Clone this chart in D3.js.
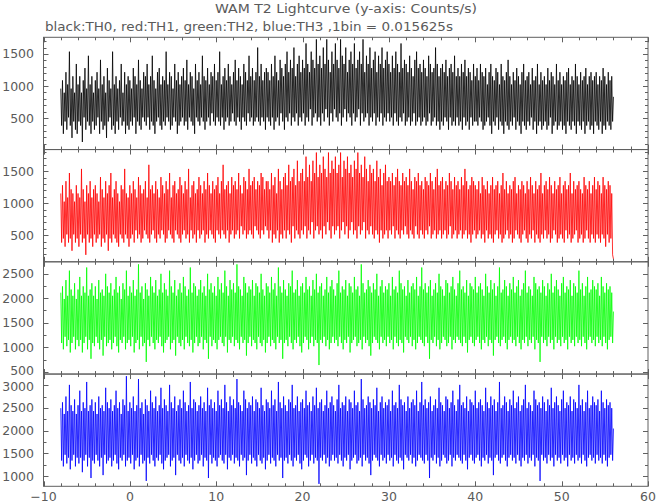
<!DOCTYPE html>
<html><head><meta charset="utf-8">
<script src="https://cdn.jsdelivr.net/npm/d3@7"></script>
<style>body{margin:0;background:#fff}</style></head>
<body>
<script>
// ---- data: the visible trace (counts/s), one value every 0.1 s from t = -8 s ----
const T_START = -8, T_STEP = 0.1;
const th0 = [
960,384,1088,256,896,448,1216,320,1024,512,1536,384,960,192,1152,448,896,320,1344,256,
1024,448,1152,384,896,128,1088,512,1280,320,960,448,1472,384,1024,256,1152,448,896,320,
1088,384,1216,512,960,256,1408,448,1024,320,1152,384,896,192,1280,448,1088,512,960,320,
1536,384,1024,256,1152,448,960,320,1088,512,1344,384,896,448,1216,256,1024,384,1152,320,
1088,448,960,384,1280,512,1152,256,1024,448,1408,384,1088,320,960,512,1216,448,1152,384,
1344,512,1024,320,1152,448,1472,384,1088,256,960,448,1216,512,1280,384,1024,320,1152,448,
1088,384,1536,512,1024,448,1216,320,1152,384,960,512,1344,448,1088,256,1216,384,1024,448,
1152,512,1280,384,1088,448,1408,320,1024,512,1216,448,1152,384,960,256,1344,512,1088,448,
1216,384,1024,512,1472,448,1152,320,1088,448,1280,512,1024,384,1216,576,1152,448,1344,384,
1088,512,1216,448,1536,384,1024,512,1152,320,1280,448,1088,512,1344,384,1152,448,1024,576,
1216,448,1408,384,1088,512,1280,448,1152,320,1024,512,1344,448,1216,384,1088,576,1472,448,
1152,512,1280,384,1088,448,1216,512,1600,448,1152,384,1344,512,1088,448,1216,320,1280,512,
1216,448,1088,384,1344,512,1152,320,1472,448,1216,512,1088,384,1408,576,1280,448,1152,320,
1344,512,1536,448,1216,576,1408,384,1280,512,1600,448,1152,576,1344,384,1472,512,1216,448,
1408,576,1280,384,1664,512,1344,448,1216,640,1536,384,1408,512,1280,576,1728,448,1344,512,
1472,384,1280,576,1600,448,1344,640,1728,512,1408,384,1216,576,1536,448,1344,640,1664,512,
1408,448,1280,576,1728,384,1472,512,1344,640,1600,448,1216,576,1408,512,1536,384,1344,576,
1664,448,1280,512,1408,640,1536,384,1344,576,1728,448,1216,512,1472,576,1344,384,1600,512,
1280,448,1408,576,1536,384,1216,512,1472,448,1344,576,1600,384,1280,512,1408,448,1536,576,
1344,448,1216,512,1472,384,1280,576,1536,448,1344,384,1216,512,1664,448,1280,576,1408,384,
1344,448,1216,512,1472,384,1280,448,1152,576,1408,384,1536,448,1280,512,1344,384,1216,448,
1408,512,1280,384,1152,448,1472,576,1344,384,1216,448,1280,512,1600,384,1344,448,1152,320,
1280,448,1344,384,1216,512,1408,448,1152,320,1280,512,1344,384,1216,448,1472,384,1152,512,
1280,384,1152,448,1344,320,1216,512,1408,384,1152,448,1280,320,1216,512,1088,384,1344,448,
1152,448,1280,384,1088,512,1344,448,1216,320,1152,384,1280,448,1024,512,1216,384,1344,256,
1152,448,1088,384,1280,512,1216,320,1024,448,1344,384,1152,256,1088,448,1216,384,1408,320,
1152,448,1024,384,1216,512,1088,320,1280,448,1152,384,1024,256,1216,448,1344,384,1088,320,
1152,448,1216,384,1024,512,1280,320,1088,448,1152,256,1344,384,1024,448,1216,320,1088,384,
1152,448,1024,320,1280,384,1088,512,1216,256,1152,384,1024,448,1344,320,1088,384,1216,448,
1024,320,1152,384,1088,256,1216,448,1280,384,1024,320,1152,448,1088,384,1344,256,1152,448,
1024,384,1216,320,1088,448,1152,256,1280,384,1024,448,1152,320,1216,384,1088,256,1152,448,
1216,384,1024,320,1152,448,1088,256,1280,384,1152,320,1024,448,1216,384,1088,320,1152,448,
832];
const th1 = [
1152,384,1280,448,1024,320,1344,512,1088,384,1472,448,1216,256,1152,512,1024,384,1280,448,
1152,320,1088,512,1536,384,1216,448,1024,192,1280,512,1152,384,1344,448,1088,320,1216,512,
1280,384,1152,448,1024,512,1408,320,1216,448,1088,384,1344,512,1152,256,1280,448,1472,384,
1088,512,1216,448,1344,384,1152,320,1024,512,1280,448,1216,384,1536,512,1152,448,1088,320,
1280,448,1152,512,1344,384,1216,576,1088,448,1408,512,1280,384,1152,448,1216,576,1344,512,
1088,448,1600,384,1216,512,1280,576,1152,448,1344,384,1216,512,1088,448,1408,576,1280,512,
1152,384,1344,448,1216,576,1472,512,1088,448,1280,384,1344,576,1152,512,1216,448,1408,384,
1280,512,1152,576,1344,448,1216,512,1536,384,1088,576,1280,448,1344,512,1152,384,1216,576,
1408,448,1280,512,1152,576,1344,384,1216,512,1472,448,1280,576,1152,512,1344,448,1216,384,
1280,576,1408,512,1152,448,1344,576,1600,512,1216,448,1280,576,1344,384,1152,512,1408,576,
1280,448,1344,512,1216,576,1472,448,1280,640,1152,512,1408,576,1344,448,1216,512,1536,576,
1280,512,1344,448,1408,640,1216,576,1344,512,1280,448,1472,576,1408,512,1216,640,1344,576,
1344,448,1216,576,1472,384,1280,512,1408,448,1152,576,1536,384,1344,512,1216,448,1408,576,
1472,448,1280,576,1600,512,1344,384,1408,640,1536,448,1280,576,1664,512,1344,448,1472,576,
1536,512,1344,640,1728,448,1408,576,1600,512,1344,704,1664,448,1472,576,1792,640,1408,512,
1600,576,1472,448,1728,640,1536,512,1408,704,1792,576,1472,448,1664,640,1536,512,1728,576,
1472,640,1600,448,1792,576,1408,704,1664,512,1536,640,1728,448,1472,576,1600,704,1408,512,
1664,576,1536,448,1792,640,1472,512,1600,576,1408,704,1728,448,1536,576,1344,512,1600,640,
1472,512,1536,448,1344,576,1664,512,1408,384,1536,576,1280,448,1472,512,1600,576,1344,448,
1408,576,1344,512,1472,640,1280,448,1408,576,1536,512,1344,448,1280,576,1472,512,1344,640,
1408,512,1280,448,1536,576,1344,512,1216,448,1408,640,1344,512,1472,448,1280,576,1344,512,
1216,448,1408,576,1344,512,1280,640,1472,448,1344,512,1216,576,1408,448,1536,512,1280,576,
1344,448,1408,512,1216,576,1344,448,1280,512,1472,640,1344,448,1216,512,1408,576,1280,448,
1344,512,1216,576,1408,448,1280,512,1536,576,1344,448,1216,512,1280,384,1408,512,1344,576,
1280,448,1216,512,1344,576,1152,448,1408,512,1280,384,1216,576,1344,448,1152,512,1280,448,
1408,384,1216,512,1280,576,1344,448,1152,512,1280,384,1472,448,1216,512,1344,576,1152,448,
1280,512,1216,384,1344,448,1408,576,1152,512,1280,448,1216,384,1344,512,1280,576,1152,448,
1344,384,1216,512,1408,448,1280,576,1152,384,1344,512,1216,448,1280,384,1472,512,1152,448,
1280,576,1344,448,1216,512,1408,384,1280,448,1152,576,1344,512,1216,384,1280,448,1408,512,
1152,448,1280,384,1344,576,1216,448,1280,512,1472,384,1152,448,1344,512,1216,576,1280,384,
1344,448,1216,512,1152,384,1408,448,1280,576,1216,448,1344,384,1152,512,1280,448,1408,384,
1216,512,1344,448,1280,384,1152,512,1408,448,1280,320,1216,512,1344,384,1280,448,1152,192,
128];
const th2 = [
2112,1088,2240,960,1984,1216,2368,1024,2048,1152,2560,896,2176,1088,2048,1216,2304,960,1984,1152,
2176,1024,2432,1152,2048,896,2240,1088,2112,1216,2624,960,2048,1152,2176,768,2304,1088,2048,1024,
2240,1216,1984,1088,2368,960,2112,1152,2176,832,2048,1216,2496,1024,2240,1088,2112,1152,2304,960,
2048,1088,2176,1216,2432,1024,2112,896,2240,1152,1984,1088,2304,1216,2176,960,2560,1088,2048,1152,
2240,1024,2112,1216,2368,896,2048,1088,2176,1152,2688,960,2112,1216,2240,1024,1984,1088,2304,704,
2176,1152,2048,1024,2432,1216,2240,1088,2112,960,2368,1152,2048,1088,2176,1216,2496,1024,2112,896,
2304,1088,2176,1152,2048,1216,2560,960,2240,1088,2112,1152,2368,832,2048,1216,2176,1088,2304,1024,
2112,1152,2432,960,2240,1216,2048,1088,2176,1024,2624,1152,2112,896,2304,1088,2240,1216,2048,1024,
2176,1088,2368,1216,2112,960,2240,1152,2048,1088,2496,768,2176,1216,2304,1024,2112,1152,2240,1088,
2048,960,2432,1152,2176,1216,2304,1088,2112,1024,2560,1216,2240,896,2048,1152,2368,1088,2176,1216,
2304,1024,2112,1152,2688,1088,2240,960,2176,1216,2048,1088,2432,1152,2304,832,2112,1088,2240,1216,
2176,1024,2368,1152,2048,1088,2304,960,2240,1216,2112,1088,2496,1024,2176,1152,2048,896,2304,1088,
2240,1216,2112,1024,2432,1152,2176,1088,2304,960,2048,1216,2624,1088,2240,1152,2112,768,2368,1088,
2176,1152,2048,1024,2304,1216,2240,1088,2560,960,2112,1152,2176,1088,2368,1216,2048,1024,2240,896,
2304,1088,2112,1216,2432,1152,2176,960,2240,1088,2048,1216,2368,1024,2176,1152,2496,1088,2112,640,
2240,1152,2304,1088,2048,1216,2176,1024,2432,1152,2112,960,2240,1088,2368,1216,2176,1088,2048,1152,
2304,1024,2560,1216,2112,1088,2240,960,2176,1152,2368,1088,2048,1216,2304,896,2240,1088,2112,1152,
2432,1216,2176,1024,2240,1088,2048,1152,2688,960,2304,1216,2112,1088,2176,1152,2368,1024,2240,832,
2112,1088,2304,1216,2176,1152,2496,1088,2048,960,2240,1216,2368,1088,2112,1152,2240,1024,2176,1216,
2304,1088,2048,1152,2432,960,2176,1216,2240,1088,2112,1024,2560,1152,2304,1088,2176,896,2240,1216,
2048,1152,2368,1088,2112,1216,2240,1024,2304,1152,2176,960,2432,1088,2048,1216,2240,1152,2624,1088,
2176,1024,2304,1216,2112,1088,2240,768,2368,1152,2048,1088,2176,1216,2304,1024,2112,1152,2496,960,
2240,1088,2176,1216,2048,1152,2368,1024,2304,1088,2112,1216,2240,960,2432,1152,2176,1088,2048,1216,
2304,1152,2560,1088,2176,1024,2240,1216,2112,1088,2368,896,2048,1152,2304,1216,2240,1088,2176,1024,
2432,1152,2112,1216,2240,1088,2304,960,2176,1152,2048,1088,2496,1216,2240,1024,2112,1152,2368,1088,
2176,832,2304,1152,2048,1216,2240,1088,2624,1024,2112,1152,2176,1216,2368,1088,2240,960,2048,1152,
2304,1216,2176,1088,2432,1152,2112,1024,2240,1216,2368,1088,2048,960,2176,1152,2304,1088,2560,1216,
2112,1024,2240,1152,2176,1088,2048,1216,2432,960,2304,1152,2176,1088,2240,704,2112,1216,2368,1088,
2240,1152,2048,1024,2304,1216,2176,1088,2496,1152,2112,960,2240,1216,2368,1088,2176,1152,2048,1024,
2304,1216,2432,1088,2112,1152,2240,960,2176,1216,2368,1088,2048,1152,2304,1024,2240,1216,2112,1088,
2560,1152,2176,1024,2304,1216,2048,1088,2240,960,2432,1152,2112,1216,2176,1088,2368,1152,2240,1024,
2176,1216,2304,1088,2048,1152,2432,1024,2240,1216,2112,1088,2304,960,2176,1152,2240,1216,2112,1088,
1728];
const th3 = [
2496,1344,2624,1216,2368,1472,2752,1280,2432,1408,3008,1152,2560,1344,2432,1472,2688,1216,2368,1408,
2560,1280,2880,1408,2432,1088,2624,1344,2496,1472,3072,1216,2432,1408,2560,960,2688,1344,2432,1280,
2624,1472,2368,1344,2752,1216,2496,1408,2560,1024,2432,1472,2944,1280,2624,1344,2496,1408,2688,1216,
2432,1344,2560,1472,2880,1280,2496,1152,2624,1408,2368,1344,2688,1472,2560,1216,3200,1344,2432,1408,
2624,1280,2496,1472,2752,1152,2432,1344,2560,1408,3136,1216,2496,1472,2624,1280,2368,1344,2688,896,
2560,1408,2432,1280,2880,1472,2624,1344,2496,1216,2752,1408,2432,1344,2560,1472,2944,1280,2496,1152,
2688,1344,2560,1408,2432,1472,3008,1216,2624,1344,2496,1408,2752,1024,2432,1472,2560,1344,2688,1280,
2496,1408,2880,1216,2624,1472,2432,1344,2560,1280,3072,1408,2496,1152,2688,1344,2624,1472,2432,1280,
2560,1344,2752,1472,2496,1216,2624,1408,2432,1344,2944,960,2560,1472,2688,1280,2496,1408,2624,1344,
2432,1216,2880,1408,2560,1472,2688,1344,2496,1280,3008,1472,2624,1152,2432,1408,2752,1344,2560,1472,
2688,1280,2496,1408,3136,1344,2624,1216,2560,1472,2432,1344,2880,1408,2688,1024,2496,1344,2624,1472,
2560,1280,2752,1408,2432,1344,2688,1216,2624,1472,2496,1344,2944,1280,2560,1408,2432,1152,2688,1344,
2624,1472,2496,1280,2880,1408,2560,1344,2688,1216,2432,1472,3072,1344,2624,1408,2496,960,2752,1344,
2560,1408,2432,1280,2688,1472,2624,1344,3008,1216,2496,1408,2560,1344,2752,1472,2432,1280,2624,1152,
2688,1344,2496,1472,2880,1408,2560,1216,2624,1344,2432,1472,2752,1280,2560,1408,2944,1344,2496,832,
2624,1408,2688,1344,2432,1472,2560,1280,2880,1408,2496,1216,2624,1344,2752,1472,2560,1344,2432,1408,
2688,1280,3008,1472,2496,1344,2624,1216,2560,1408,2752,1344,2432,1472,2688,1152,2624,1344,2496,1408,
2880,1472,2560,1280,2624,1344,2432,1408,3136,1216,2688,1472,2496,1344,2560,1408,2752,1280,2624,1024,
2496,1344,2688,1472,2560,1408,2944,1344,2432,1216,2624,1472,2752,1344,2496,1408,2624,1280,2560,1472,
2688,1344,2432,1408,2880,1216,2560,1472,2624,1344,2496,1280,3008,1408,2688,1344,2560,1152,2624,1472,
2432,1408,2752,1344,2496,1472,2624,1280,2688,1408,2560,1216,2880,1344,2432,1472,2624,1408,3072,1344,
2560,1280,2688,1472,2496,1344,2624,960,2752,1408,2432,1344,2560,1472,2688,1280,2496,1408,2944,1216,
2624,1344,2560,1472,2432,1408,2752,1280,2688,1344,2496,1472,2624,1216,2880,1408,2560,1344,2432,1472,
2688,1408,3008,1344,2560,1280,2624,1472,2496,1344,2752,1152,2432,1408,2688,1472,2624,1344,2560,1280,
2880,1408,2496,1472,2624,1344,2688,1216,2560,1408,2432,1344,2944,1472,2624,1280,2496,1408,2752,1344,
2560,1024,2688,1408,2432,1472,2624,1344,3072,1280,2496,1408,2560,1472,2752,1344,2624,1216,2432,1408,
2688,1472,2560,1344,2880,1408,2496,1280,2624,1472,2752,1344,2432,1216,2560,1408,2688,1344,3008,1472,
2496,1280,2624,1408,2560,1344,2432,1472,2880,1216,2688,1408,2560,1344,2624,896,2496,1472,2752,1344,
2624,1408,2432,1280,2688,1472,2560,1344,2944,1408,2496,1216,2624,1472,2752,1344,2560,1408,2432,1280,
2688,1472,2880,1344,2496,1408,2624,1216,2560,1472,2752,1344,2432,1408,2688,1280,2624,1472,2496,1344,
3008,1408,2560,1280,2688,1472,2432,1344,2624,1216,2880,1408,2496,1472,2560,1344,2752,1408,2624,1280,
2560,1472,2688,1344,2432,1408,2880,1280,2624,1472,2496,1344,2688,1216,2560,1408,2624,1472,2496,1344,
2048];

// ---- axis / labels ----
const titleText = "WAM T2 Lightcurve (y-axis: Counts/s)";
const subtitleText = "black:TH0, red:TH1, green:TH2, blue:TH3 ,1bin = 0.015625s";
const xDomain = [-10, 60];
const xTickLabels = [-10, 0, 10, 20, 30, 40, 50, 60];
const seriesColors = ["#000000", "#ff0000", "#00ff00", "#0000ff"];
const yDomains = [[10, 1760], [83, 1839], [457, 2740], [778, 3246]];
const yTickLabels = [[500, 1000, 1500], [500, 1000, 1500], [500, 1000, 1500, 2000, 2500], [1000, 1500, 2000, 2500, 3000]];
const yMinorSteps = [100, 100, 250, 250];
const seriesList = [th0, th1, th2, th3];

// ---- drawing ----
const W = 657, H = 504;
const mLeft = 43.5, mRight = 648, mTop = 37.3, mBottom = 486.3;
const ph = (mBottom - mTop) / 4;
const axisColor = "#606060", textColor = "#5a5a5a";
const font = "DejaVu Sans, sans-serif";

const svg = d3.select("body").append("svg").attr("width", W).attr("height", H)
  .style("background", "#fff");

const x = d3.scaleLinear().domain(xDomain).range([mLeft, mRight]);

svg.append("text").attr("x", 346).attr("y", 12.5).attr("text-anchor", "middle")
  .attr("font-family", font).attr("font-size", 12.5).attr("fill", textColor)
  .attr("textLength", 262).attr("lengthAdjust", "spacingAndGlyphs").text(titleText);
svg.append("text").attr("x", 45).attr("y", 31).attr("text-anchor", "start")
  .attr("font-family", font).attr("font-size", 12.5).attr("fill", textColor)
  .attr("textLength", 408).attr("lengthAdjust", "spacingAndGlyphs").text(subtitleText);

seriesList.forEach((vals, p) => {
  const y0 = mTop + p * ph, y1 = y0 + ph;
  const y = d3.scaleLinear().domain(yDomains[p]).range([y1, y0]);
  const g = svg.append("g");
  const clipId = "clip" + p;
  svg.append("clipPath").attr("id", clipId).append("rect")
    .attr("x", mLeft).attr("y", y0).attr("width", mRight - mLeft).attr("height", ph);

  const line = d3.line().x((d, i) => x(T_START + i * T_STEP)).y(d => y(d));
  g.append("path").datum(vals).attr("d", line).attr("fill", "none")
    .attr("stroke", seriesColors[p]).attr("stroke-width", 0.8)
    .attr("stroke-linejoin", "bevel").attr("clip-path", `url(#${clipId})`);

  g.append("rect").attr("x", mLeft).attr("y", y0).attr("width", mRight - mLeft).attr("height", ph)
    .attr("fill", "none").attr("stroke", axisColor).attr("stroke-width", 1);

  const xMinor = d3.range(xDomain[0], xDomain[1] + 0.001, 2);
  xMinor.forEach(v => {
    const major = v % 10 === 0;
    const len = major ? 5 : 3;
    const xx = Math.round(x(v)) + 0.5;
    g.append("line").attr("x1", xx).attr("x2", xx).attr("y1", y1).attr("y2", y1 - len)
      .attr("stroke", axisColor).attr("stroke-width", 1);
    g.append("line").attr("x1", xx).attr("x2", xx).attr("y1", y0).attr("y2", y0 + len)
      .attr("stroke", axisColor).attr("stroke-width", 1);
  });

  const st = yMinorSteps[p];
  const yMinor = d3.range(Math.ceil(yDomains[p][0] / st) * st, yDomains[p][1], st);
  yMinor.forEach(v => {
    const major = v % 500 === 0;
    const len = major ? 5 : 3;
    const yy = Math.round(y(v)) + 0.5;
    g.append("line").attr("x1", mLeft).attr("x2", mLeft + len).attr("y1", yy).attr("y2", yy)
      .attr("stroke", axisColor).attr("stroke-width", 1);
    g.append("line").attr("x1", mRight).attr("x2", mRight - len).attr("y1", yy).attr("y2", yy)
      .attr("stroke", axisColor).attr("stroke-width", 1);
  });

  yTickLabels[p].forEach(v => {
    // keep labels next to a panel boundary from colliding with the neighbouring panel's label
    const ly = Math.max(Math.min(y(v), y1 - 3.5), y0 + 12);
    g.append("text").attr("x", 34).attr("y", ly).attr("dy", "0.36em")
      .attr("text-anchor", "end").attr("font-family", font).attr("font-size", 12.5)
      .attr("fill", textColor).text(v);
  });

  if (p === 3) {
    xTickLabels.forEach(v => {
      g.append("text").attr("x", x(v)).attr("y", 501).attr("text-anchor", "middle")
        .attr("font-family", font).attr("font-size", 12.5).attr("fill", textColor)
        .text(v < 0 ? "\u2212" + Math.abs(v) : v);
    });
  }
});
</script>
</body></html>
